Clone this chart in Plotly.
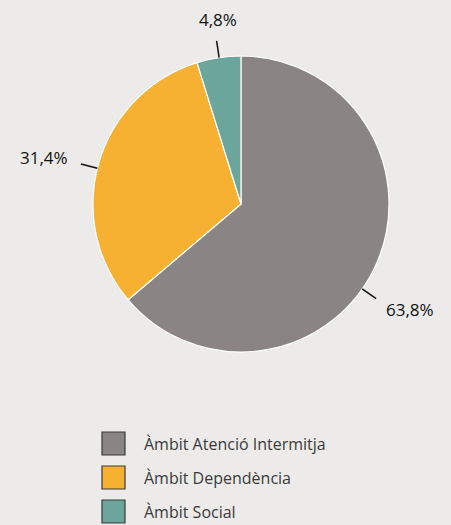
import math
import plotly.graph_objects as go

categories = ["Àmbit Atenció Intermitja", "Àmbit Dependència", "Àmbit Social"]
values = [63.8, 31.4, 4.8]
value_labels = ["63,8%", "31,4%", "4,8%"]
colors = ["#8A8584", "#F6B133", "#6BA59C"]

W, H = 451, 525
BG = "#ECEBE9"
cx, cy, R = 241, 204, 148  # pie centre / radius in pixels

fig = go.Figure()
fig.add_trace(go.Pie(
    labels=categories, values=values, sort=False, direction="clockwise",
    rotation=0, textinfo="none", hoverinfo="label+percent",
    marker=dict(colors=colors, line=dict(color="white", width=1.2)),
    domain=dict(x=[(cx - R) / W, (cx + R) / W], y=[(H - cy - R) / H, (H - cy + R) / H]),
    showlegend=False,
))

# label leader ticks and texts (angle measured clockwise from 12 o'clock)
tick_angles = [125, -76, -8.5]
label_angles = [122, -76.6, -7.1]
label_radius = [199, 202, 186]
shapes, annotations = [], []
for i, v in enumerate(values):
    a = math.radians(tick_angles[i])
    x0, y0 = cx + R * math.sin(a), cy - R * math.cos(a)
    x1, y1 = cx + (R + 17) * math.sin(a), cy - (R + 17) * math.cos(a)
    shapes.append(dict(type="line", xref="paper", yref="paper",
                       x0=x0 / W, y0=1 - y0 / H, x1=x1 / W, y1=1 - y1 / H,
                       line=dict(color="#111111", width=1.5)))
    b = math.radians(label_angles[i])
    lx, ly = cx + label_radius[i] * math.sin(b), cy - label_radius[i] * math.cos(b)
    annotations.append(dict(xref="paper", yref="paper", x=lx / W, y=1 - ly / H,
                            text=value_labels[i], showarrow=False,
                            xanchor="center", yanchor="middle",
                            font=dict(family="Open Sans", size=17, color="#111111")))

# manual legend
leg_x, leg_y0, leg_dy, box = 102, 432, 34, 23
for i, name in enumerate(categories):
    top = leg_y0 + i * leg_dy
    shapes.append(dict(type="rect", xref="paper", yref="paper",
                       x0=leg_x / W, x1=(leg_x + box) / W,
                       y0=1 - (top + box) / H, y1=1 - top / H,
                       fillcolor=colors[i], line=dict(color="#3a3a3a", width=1.2)))
    annotations.append(dict(xref="paper", yref="paper", x=142 / W, y=1 - (top + box / 2) / H,
                            text=name, showarrow=False, xanchor="left", yanchor="middle",
                            font=dict(family="Open Sans", size=16, color="#3a3a3a")))

fig.update_layout(
    width=W, height=H, margin=dict(l=0, r=0, t=0, b=0),
    paper_bgcolor=BG, plot_bgcolor=BG,
    shapes=shapes, annotations=annotations,
)
fig.write_html("out.html")
